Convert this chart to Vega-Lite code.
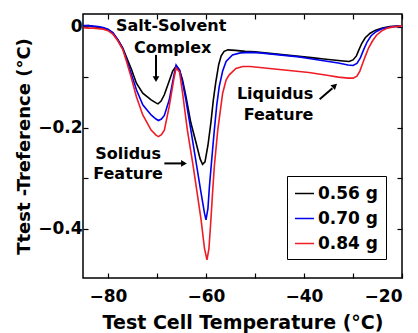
{
  "$schema": "https://vega.github.io/schema/vega-lite/v6.json",
  "width": 319,
  "height": 264,
  "autosize": {"type": "none"},
  "padding": {"left": 83, "top": 14, "right": 16, "bottom": 55},
  "background": "white",
  "config": {
    "view": {"stroke": "black", "strokeWidth": 1.5},
    "font": "DejaVu Sans",
    "axis": {
      "grid": false, "domain": false, "tickColor": "black", "tickSize": -5, "tickWidth": 1.2,
      "labelFont": "DejaVu Sans", "labelFontSize": 17, "labelFontWeight": "bold", "labelColor": "black",
      "titleFont": "DejaVu Sans", "titleFontSize": 19, "titleFontWeight": "bold", "titleColor": "black"
    }
  },
  "datasets": {
    "curves": [
      {"s":"0.56 g","x":-85,"y":0.001},{"s":"0.56 g","x":-84,"y":0.002},{"s":"0.56 g","x":-83,"y":0.0},{"s":"0.56 g","x":-82,"y":-0.001},{"s":"0.56 g","x":-81,"y":-0.003},{"s":"0.56 g","x":-80,"y":-0.006},{"s":"0.56 g","x":-79,"y":-0.013},{"s":"0.56 g","x":-78,"y":-0.026},{"s":"0.56 g","x":-77,"y":-0.042},{"s":"0.56 g","x":-76.3,"y":-0.059},{"s":"0.56 g","x":-75.2,"y":-0.085},{"s":"0.56 g","x":-74.2,"y":-0.112},{"s":"0.56 g","x":-72.9,"y":-0.132},{"s":"0.56 g","x":-71.2,"y":-0.145},{"s":"0.56 g","x":-70.2,"y":-0.151},{"s":"0.56 g","x":-69.8,"y":-0.153},{"s":"0.56 g","x":-69.2,"y":-0.148},{"s":"0.56 g","x":-68.5,"y":-0.135},{"s":"0.56 g","x":-67.6,"y":-0.11},{"s":"0.56 g","x":-66.8,"y":-0.088},{"s":"0.56 g","x":-66.1,"y":-0.078},{"s":"0.56 g","x":-65.4,"y":-0.086},{"s":"0.56 g","x":-64.8,"y":-0.105},{"s":"0.56 g","x":-64.1,"y":-0.138},{"s":"0.56 g","x":-63.1,"y":-0.19},{"s":"0.56 g","x":-62,"y":-0.231},{"s":"0.56 g","x":-61.2,"y":-0.262},{"s":"0.56 g","x":-60.7,"y":-0.273},{"s":"0.56 g","x":-60.2,"y":-0.268},{"s":"0.56 g","x":-59.6,"y":-0.235},{"s":"0.56 g","x":-59,"y":-0.19},{"s":"0.56 g","x":-58.5,"y":-0.145},{"s":"0.56 g","x":-58,"y":-0.11},{"s":"0.56 g","x":-57.4,"y":-0.075},{"s":"0.56 g","x":-56.9,"y":-0.058},{"s":"0.56 g","x":-56.3,"y":-0.049},{"s":"0.56 g","x":-55.5,"y":-0.046},{"s":"0.56 g","x":-54,"y":-0.047},{"s":"0.56 g","x":-52,"y":-0.049},{"s":"0.56 g","x":-50,"y":-0.05},{"s":"0.56 g","x":-48,"y":-0.052},{"s":"0.56 g","x":-46,"y":-0.054},{"s":"0.56 g","x":-44,"y":-0.056},{"s":"0.56 g","x":-42,"y":-0.058},{"s":"0.56 g","x":-40,"y":-0.06},{"s":"0.56 g","x":-38,"y":-0.062},{"s":"0.56 g","x":-36,"y":-0.064},{"s":"0.56 g","x":-34,"y":-0.066},{"s":"0.56 g","x":-32,"y":-0.068},{"s":"0.56 g","x":-30.8,"y":-0.069},{"s":"0.56 g","x":-30,"y":-0.066},{"s":"0.56 g","x":-29.3,"y":-0.058},{"s":"0.56 g","x":-28.8,"y":-0.046},{"s":"0.56 g","x":-28.2,"y":-0.033},{"s":"0.56 g","x":-27.5,"y":-0.022},{"s":"0.56 g","x":-26.5,"y":-0.013},{"s":"0.56 g","x":-25.4,"y":-0.007},{"s":"0.56 g","x":-24,"y":-0.003},{"s":"0.56 g","x":-22.5,"y":0.0},{"s":"0.56 g","x":-21,"y":0.001},{"s":"0.56 g","x":-20,"y":0.0},
      {"s":"0.70 g","x":-85,"y":0.002},{"s":"0.70 g","x":-84,"y":0.002},{"s":"0.70 g","x":-83,"y":0.001},{"s":"0.70 g","x":-82,"y":0.0},{"s":"0.70 g","x":-81,"y":-0.002},{"s":"0.70 g","x":-80,"y":-0.005},{"s":"0.70 g","x":-79,"y":-0.012},{"s":"0.70 g","x":-78,"y":-0.026},{"s":"0.70 g","x":-77,"y":-0.043},{"s":"0.70 g","x":-76.3,"y":-0.063},{"s":"0.70 g","x":-75.2,"y":-0.095},{"s":"0.70 g","x":-74.2,"y":-0.125},{"s":"0.70 g","x":-72.9,"y":-0.155},{"s":"0.70 g","x":-71.2,"y":-0.175},{"s":"0.70 g","x":-70.2,"y":-0.183},{"s":"0.70 g","x":-69.7,"y":-0.186},{"s":"0.70 g","x":-69.1,"y":-0.183},{"s":"0.70 g","x":-68.5,"y":-0.176},{"s":"0.70 g","x":-67.5,"y":-0.145},{"s":"0.70 g","x":-66.6,"y":-0.099},{"s":"0.70 g","x":-66.1,"y":-0.076},{"s":"0.70 g","x":-65.4,"y":-0.086},{"s":"0.70 g","x":-64.8,"y":-0.11},{"s":"0.70 g","x":-64.1,"y":-0.145},{"s":"0.70 g","x":-63,"y":-0.21},{"s":"0.70 g","x":-62,"y":-0.27},{"s":"0.70 g","x":-61,"y":-0.33},{"s":"0.70 g","x":-60.3,"y":-0.37},{"s":"0.70 g","x":-60,"y":-0.383},{"s":"0.70 g","x":-59.6,"y":-0.36},{"s":"0.70 g","x":-59.3,"y":-0.317},{"s":"0.70 g","x":-58.8,"y":-0.26},{"s":"0.70 g","x":-58.3,"y":-0.205},{"s":"0.70 g","x":-57.8,"y":-0.155},{"s":"0.70 g","x":-57.3,"y":-0.119},{"s":"0.70 g","x":-56.6,"y":-0.088},{"s":"0.70 g","x":-55.9,"y":-0.069},{"s":"0.70 g","x":-54.6,"y":-0.056},{"s":"0.70 g","x":-53,"y":-0.052},{"s":"0.70 g","x":-51,"y":-0.051},{"s":"0.70 g","x":-49,"y":-0.052},{"s":"0.70 g","x":-47,"y":-0.054},{"s":"0.70 g","x":-45,"y":-0.056},{"s":"0.70 g","x":-43,"y":-0.058},{"s":"0.70 g","x":-41,"y":-0.06},{"s":"0.70 g","x":-39,"y":-0.063},{"s":"0.70 g","x":-37,"y":-0.066},{"s":"0.70 g","x":-35,"y":-0.069},{"s":"0.70 g","x":-33,"y":-0.072},{"s":"0.70 g","x":-31,"y":-0.076},{"s":"0.70 g","x":-30,"y":-0.077},{"s":"0.70 g","x":-29.2,"y":-0.073},{"s":"0.70 g","x":-28.5,"y":-0.062},{"s":"0.70 g","x":-27.8,"y":-0.045},{"s":"0.70 g","x":-27.1,"y":-0.03},{"s":"0.70 g","x":-26.3,"y":-0.018},{"s":"0.70 g","x":-25.3,"y":-0.01},{"s":"0.70 g","x":-24,"y":-0.004},{"s":"0.70 g","x":-22.5,"y":-0.001},{"s":"0.70 g","x":-21,"y":0.001},{"s":"0.70 g","x":-20,"y":0.0},
      {"s":"0.84 g","x":-85,"y":-0.002},{"s":"0.84 g","x":-84,"y":-0.003},{"s":"0.84 g","x":-83,"y":-0.003},{"s":"0.84 g","x":-82,"y":-0.004},{"s":"0.84 g","x":-81,"y":-0.005},{"s":"0.84 g","x":-80,"y":-0.008},{"s":"0.84 g","x":-79,"y":-0.015},{"s":"0.84 g","x":-78,"y":-0.028},{"s":"0.84 g","x":-77,"y":-0.045},{"s":"0.84 g","x":-76.3,"y":-0.066},{"s":"0.84 g","x":-75.2,"y":-0.103},{"s":"0.84 g","x":-74.2,"y":-0.139},{"s":"0.84 g","x":-72.9,"y":-0.175},{"s":"0.84 g","x":-71.2,"y":-0.205},{"s":"0.84 g","x":-70.2,"y":-0.215},{"s":"0.84 g","x":-69.7,"y":-0.218},{"s":"0.84 g","x":-69.1,"y":-0.214},{"s":"0.84 g","x":-68.5,"y":-0.205},{"s":"0.84 g","x":-67.5,"y":-0.158},{"s":"0.84 g","x":-66.6,"y":-0.106},{"s":"0.84 g","x":-66.1,"y":-0.082},{"s":"0.84 g","x":-65.4,"y":-0.09},{"s":"0.84 g","x":-64.8,"y":-0.13},{"s":"0.84 g","x":-63.8,"y":-0.205},{"s":"0.84 g","x":-62.7,"y":-0.271},{"s":"0.84 g","x":-61.8,"y":-0.33},{"s":"0.84 g","x":-61,"y":-0.383},{"s":"0.84 g","x":-60.3,"y":-0.44},{"s":"0.84 g","x":-59.8,"y":-0.462},{"s":"0.84 g","x":-59.4,"y":-0.44},{"s":"0.84 g","x":-59,"y":-0.383},{"s":"0.84 g","x":-58.6,"y":-0.32},{"s":"0.84 g","x":-58.3,"y":-0.277},{"s":"0.84 g","x":-57.6,"y":-0.205},{"s":"0.84 g","x":-56.6,"y":-0.132},{"s":"0.84 g","x":-55.9,"y":-0.106},{"s":"0.84 g","x":-55.3,"y":-0.096},{"s":"0.84 g","x":-53.9,"y":-0.083},{"s":"0.84 g","x":-52.5,"y":-0.079},{"s":"0.84 g","x":-51,"y":-0.079},{"s":"0.84 g","x":-49,"y":-0.081},{"s":"0.84 g","x":-47,"y":-0.083},{"s":"0.84 g","x":-45,"y":-0.085},{"s":"0.84 g","x":-43,"y":-0.087},{"s":"0.84 g","x":-41,"y":-0.089},{"s":"0.84 g","x":-39,"y":-0.091},{"s":"0.84 g","x":-37,"y":-0.094},{"s":"0.84 g","x":-35,"y":-0.097},{"s":"0.84 g","x":-33,"y":-0.1},{"s":"0.84 g","x":-31,"y":-0.102},{"s":"0.84 g","x":-30,"y":-0.102},{"s":"0.84 g","x":-29.2,"y":-0.098},{"s":"0.84 g","x":-28.6,"y":-0.088},{"s":"0.84 g","x":-28,"y":-0.072},{"s":"0.84 g","x":-27.5,"y":-0.059},{"s":"0.84 g","x":-26.8,"y":-0.042},{"s":"0.84 g","x":-26,"y":-0.028},{"s":"0.84 g","x":-25.2,"y":-0.017},{"s":"0.84 g","x":-24.2,"y":-0.009},{"s":"0.84 g","x":-23,"y":-0.003},{"s":"0.84 g","x":-21.5,"y":0.0},{"s":"0.84 g","x":-20,"y":0.001}
    ],
    "labels": [
      {"t":"Salt-Solvent","x":-67.1,"y":0.001},
      {"t":"Complex","x":-66.8,"y":-0.042},
      {"t":"Liquidus","x":-45.9,"y":-0.134},
      {"t":"Feature","x":-45.2,"y":-0.175},
      {"t":"Solidus","x":-75.9,"y":-0.252},
      {"t":"Feature","x":-75.9,"y":-0.292}
    ],
    "arrows": [
      {"x":-70.2,"y":-0.056,"x2":-70.2,"y2":-0.1},
      {"x":-68.5,"y":-0.271,"x2":-65.0,"y2":-0.271},
      {"x":-36.8,"y":-0.144,"x2":-34.2,"y2":-0.122}
    ],
    "heads": [
      {"x":-70.2,"y":-0.104,"shape":"triangle-down","a":0},
      {"x":-64.5,"y":-0.271,"shape":"triangle-right","a":0},
      {"x":-33.7,"y":-0.117,"shape":"triangle-up","a":48}
    ]
  },
  "resolve": {"axis": {"x": "independent", "y": "independent"}},
  "layer": [
    {
      "data": {"name": "curves"},
      "mark": {"type": "line", "strokeWidth": 1.6},
      "encoding": {
        "x": {"field": "x", "type": "quantitative", "scale": {"domain": [-85.1, -20], "nice": false, "zero": false},
              "axis": {"orient": "bottom", "title": "Test Cell Temperature (°C)", "values": [-80, -60, -40, -20],
                       "labelPadding": 15, "titlePadding": 9}},
        "y": {"field": "y", "type": "quantitative", "scale": {"domain": [-0.498, 0.025], "nice": false, "zero": false},
              "axis": {"orient": "left", "title": "Ttest -Treference (°C)", "values": [0, -0.2, -0.4],
                       "labelExpr": "datum.value == 0 ? '0' : format(datum.value, '.1f')", "labelPadding": 6, "titlePadding": 4, "titleFontSize": 18}},
        "color": {"field": "s", "type": "nominal",
                  "scale": {"domain": ["0.56 g", "0.70 g", "0.84 g"], "range": ["#000000", "#0000ee", "#ee1c25"]},
                  "legend": {"title": null, "orient": "none", "legendX": 204, "legendY": 162, "strokeColor": "black",
                             "fillColor": "white", "padding": 7, "symbolType": "stroke", "symbolSize": 360, "symbolStrokeWidth": 1.5,
                             "labelFont": "DejaVu Sans", "labelFontSize": 17, "labelFontWeight": "bold", "labelColor": "black", "rowPadding": 6, "labelOffset": 3}}
      }
    },
    {
      "data": {"name": "labels"},
      "mark": {"type": "text", "font": "DejaVu Sans", "fontSize": 16, "fontWeight": "bold", "color": "black", "baseline": "middle", "align": "center"},
      "encoding": {
        "x": {"field": "x", "type": "quantitative", "axis": null},
        "y": {"field": "y", "type": "quantitative", "axis": null},
        "text": {"field": "t"}
      }
    },
    {
      "data": {"name": "arrows"},
      "mark": {"type": "rule", "strokeWidth": 2, "color": "black"},
      "encoding": {
        "x": {"field": "x", "type": "quantitative", "axis": null},
        "y": {"field": "y", "type": "quantitative", "axis": null},
        "x2": {"field": "x2"},
        "y2": {"field": "y2"}
      }
    },
    {
      "data": {"name": "heads"},
      "mark": {"type": "point", "filled": true, "color": "black", "opacity": 1, "size": 45},
      "encoding": {
        "x": {"field": "x", "type": "quantitative", "axis": null},
        "y": {"field": "y", "type": "quantitative", "axis": null},
        "shape": {"field": "shape", "type": "nominal", "scale": null},
        "angle": {"field": "a", "type": "quantitative", "scale": null}
      }
    },
    {
      "data": {"name": "labels"},
      "mark": {"type": "point", "opacity": 0},
      "encoding": {
        "x": {"field": "x", "type": "quantitative",
              "axis": {"orient": "top", "title": null, "labels": false, "values": [-80, -70, -60, -50, -40, -30, -20]}},
        "y": {"field": "y", "type": "quantitative",
              "axis": {"orient": "right", "title": null, "labels": false, "values": [0, -0.1, -0.2, -0.3, -0.4]}}
      }
    },
    {
      "data": {"name": "labels"},
      "mark": {"type": "point", "opacity": 0},
      "encoding": {
        "x": {"field": "x", "type": "quantitative",
              "axis": {"orient": "bottom", "title": null, "labels": false, "values": [-70, -50, -30]}},
        "y": {"field": "y", "type": "quantitative",
              "axis": {"orient": "left", "title": null, "labels": false, "values": [-0.1, -0.3]}}
      }
    }
  ]
}
